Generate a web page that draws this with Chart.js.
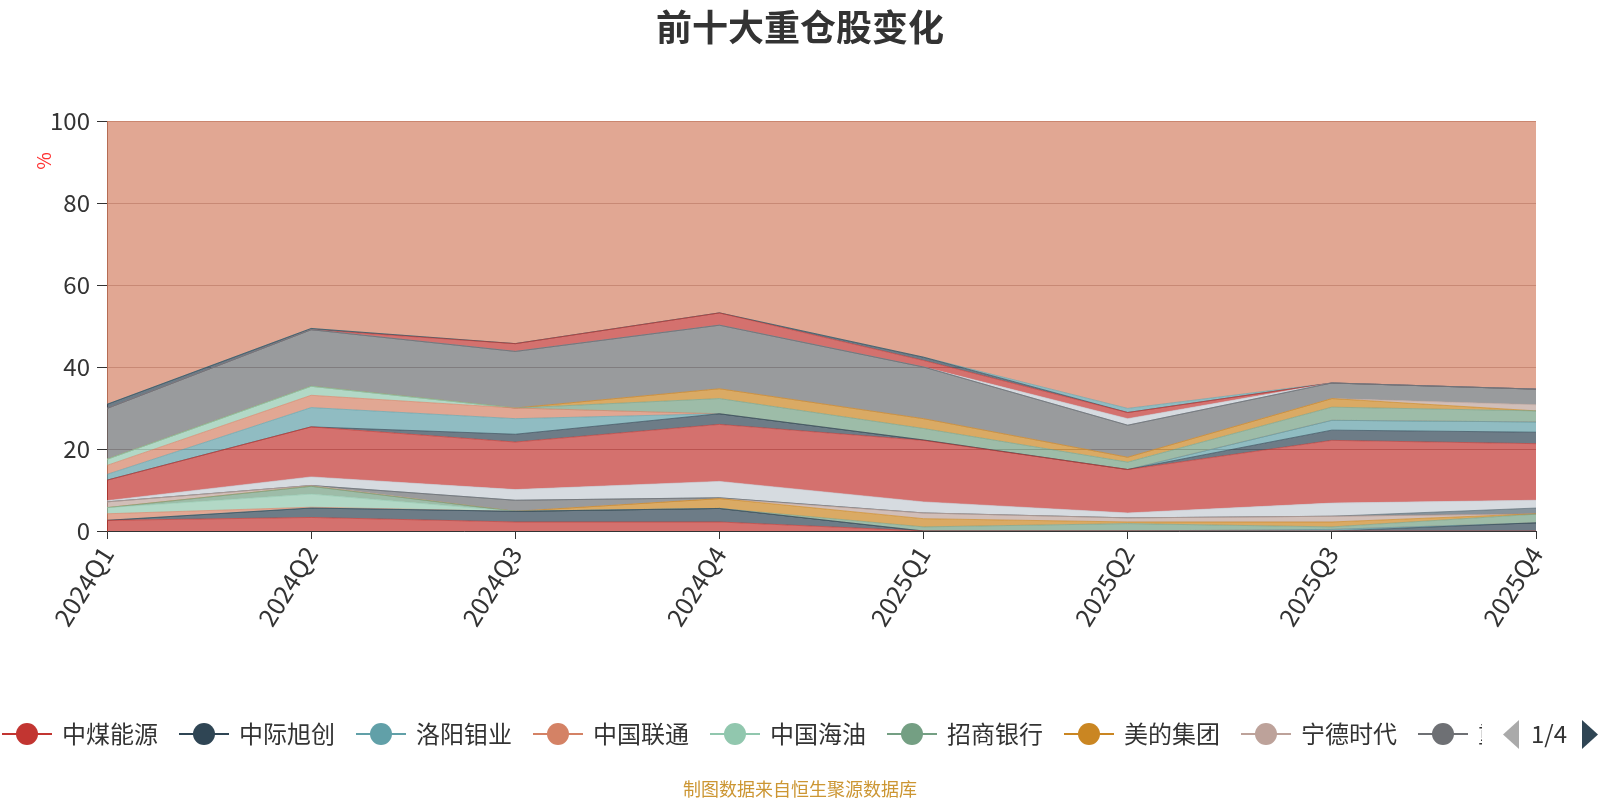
<!DOCTYPE html>
<html>
<head>
<meta charset="utf-8">
<script src="https://cdn.jsdelivr.net/npm/chart.js@4.4.0/dist/chart.umd.min.js"></script>
<style>
    body { margin: 0; background: #fff; }
    #wrap { width: 1600px; height: 800px; }
</style>
</head>
<body>
<div id="wrap"><canvas id="holdingsChart" width="1600" height="800"></canvas></div>
<script>
// Quarters on the x axis
const quarters = ['2024Q1', '2024Q2', '2024Q3', '2024Q4', '2025Q1', '2025Q2', '2025Q3', '2025Q4'];
const yTicks = [0, 20, 40, 60, 80, 100];

// Holding weights (%), one array per stock, in stacking order
const zhongmeiNengyuan = [2.6, 3.3, 2.2, 2.2, 0, 0, 0, 0];
const zhongjiXuchuang = [0, 2.3, 2.6, 3.3, 0, 0, 0, 2.0];
const luoyangMuye = [0, 0, 0, 0, 0, 0, 0.4, 0];
const zhongguoLiantong = [1.6, 0.2, 0, 0, 0, 0, 0, 0];
const zhongguoHaiyou = [1.5, 3.2, 0, 0, 0, 0, 0, 0];
const zhaoshangYinhang = [0, 1.9, 0, 0, 1.0, 1.8, 0.6, 2.1];
const meideJituan = [0, 0, 0, 2.4, 2.0, 0.4, 1.2, 0.1];
const ningdeShidai = [1.4, 0.2, 0, 0, 1.4, 1.0, 1.4, 0];
const stock09 = [0, 0, 2.7, 0.2, 0, 0, 0, 0];
const stock10 = [0, 0, 0, 0, 0, 0, 0, 1.4];
const stock11 = [0.3, 2.1, 2.6, 4.0, 2.7, 1.2, 3.2, 1.9];
const stock12 = [5.0, 12.2, 11.6, 13.9, 15.0, 10.6, 15.3, 13.8];
const stock13 = [0, 0, 1.9, 2.6, 0.1, 0, 2.5, 2.8];
const stock14 = [1.4, 4.7, 3.8, 0, 0, 0, 2.4, 2.5];
const stock15 = [2.2, 3.0, 2.6, 0, 0, 0, 0, 0];
const stock16 = [1.5, 2.2, 0, 0, 0, 0, 0, 0];
const stock17 = [0, 0, 0, 3.7, 2.8, 1.8, 3.2, 2.7];
const stock18 = [0, 0, 0, 2.4, 2.4, 1.2, 2.1, 0];
const stock19 = [0, 0, 0, 0, 0, 0, 0, 1.5];
const stock20 = [12.4, 13.8, 13.8, 15.5, 12.6, 7.8, 3.8, 3.8];
const stock21 = [0, 0, 0, 0, 0, 0, 0, 0];
const stock22 = [0, 0, 0, 0, 0, 1.6, 0, 0];
const stock23 = [0, 0, 1.9, 3.0, 1.6, 1.5, 0, 0];
const stock24 = [1.0, 0.3, 0, 0, 0.8, 0, 0, 0];
const stock25 = [0, 0, 0, 0, 0, 1.0, 0, 0];
const others = [69.1, 50.6, 54.3, 46.8, 57.6, 70.1, 63.9, 65.4];

const seriesNames = ['中煤能源', '中际旭创', '洛阳钼业', '中国联通', '中国海油', '招商银行', '美的集团', '宁德时代',
    '重仓股9', '重仓股10', '重仓股11', '重仓股12', '重仓股13', '重仓股14', '重仓股15', '重仓股16', '重仓股17',
    '重仓股18', '重仓股19', '重仓股20', '重仓股21', '重仓股22', '重仓股23', '重仓股24', '重仓股25', '其他'];
const seriesData = [zhongmeiNengyuan, zhongjiXuchuang, luoyangMuye, zhongguoLiantong, zhongguoHaiyou,
    zhaoshangYinhang, meideJituan, ningdeShidai, stock09, stock10, stock11, stock12, stock13, stock14,
    stock15, stock16, stock17, stock18, stock19, stock20, stock21, stock22, stock23, stock24, stock25, others];

const palette = ['#c23531', '#2f4554', '#61a0a8', '#d48265', '#91c7ae', '#749f83',
    '#ca8622', '#bda29a', '#6e7074', '#546570', '#c4ccd3'];
const FONT = '"Noto Sans CJK SC", "Noto Sans", sans-serif';

function withAlpha(hex, a) {
    const n = parseInt(hex.slice(1), 16);
    return `rgba(${(n >> 16) & 255}, ${(n >> 8) & 255}, ${n & 255}, ${a})`;
}

const datasets = seriesData.map((data, i) => ({
    label: seriesNames[i],
    data: data,
    fill: i === 0 ? 'origin' : '-1',
    backgroundColor: withAlpha(palette[i % palette.length], 0.7),
    borderColor: withAlpha(palette[i % palette.length], 0.6),
    borderWidth: 1,
    pointRadius: 0,
    tension: 0
}));

// Title, axis name, legend (first page) and footer
const decorPlugin = {
    id: 'decor',
    afterDraw(chart) {
        const ctx = chart.ctx;
        ctx.save();
        ctx.fillStyle = '#333';
        ctx.textAlign = 'center';
        ctx.textBaseline = 'middle';
        ctx.font = 'bold 36px ' + FONT;
        ctx.fillText('前十大重仓股变化', 800, 27);

        // y axis name
        ctx.save();
        ctx.translate(44, 161);
        ctx.rotate(-Math.PI / 2);
        ctx.fillStyle = '#f33';
        ctx.font = '19px ' + FONT;
        ctx.fillText('%', 0, 0);
        ctx.restore();

        // legend, clipped like a scrolling legend
        const cy = 734;
        ctx.save();
        ctx.beginPath();
        ctx.rect(0, 705, 1482, 60);
        ctx.clip();
        ctx.font = '24px ' + FONT;
        ctx.textAlign = 'left';
        let x = 2;
        seriesNames.forEach((name, i) => {
            if (x > 1482) return;
            const color = palette[i % palette.length];
            ctx.strokeStyle = color;
            ctx.lineWidth = 2;
            ctx.beginPath();
            ctx.moveTo(x, cy);
            ctx.lineTo(x + 50, cy);
            ctx.stroke();
            ctx.fillStyle = color;
            ctx.beginPath();
            ctx.arc(x + 25, cy, 11, 0, Math.PI * 2);
            ctx.fill();
            ctx.fillStyle = '#333';
            ctx.fillText(name, x + 60, cy);
            x += 60 + ctx.measureText(name).width + 21;
        });
        ctx.restore();

        // page controls
        ctx.fillStyle = '#aaa';
        ctx.beginPath();
        ctx.moveTo(1519, 720);
        ctx.lineTo(1519, 749);
        ctx.lineTo(1503, 734.5);
        ctx.closePath();
        ctx.fill();
        ctx.fillStyle = '#333';
        ctx.font = '24px ' + FONT;
        ctx.textAlign = 'left';
        ctx.fillText('1/4', 1531, cy);
        ctx.fillStyle = '#2f4554';
        ctx.beginPath();
        ctx.moveTo(1582, 720);
        ctx.lineTo(1582, 749);
        ctx.lineTo(1598, 734.5);
        ctx.closePath();
        ctx.fill();

        // footer
        ctx.textAlign = 'center';
        ctx.fillStyle = '#cc9633';
        ctx.font = '18px ' + FONT;
        ctx.fillText('制图数据来自恒生聚源数据库', 800, 789);
        ctx.restore();
    }
};

new Chart(document.getElementById('holdingsChart'), {
    type: 'line',
    data: { labels: quarters, datasets: datasets },
    options: {
        responsive: false,
        animation: false,
        devicePixelRatio: 1,
        layout: { padding: { top: 121, right: 64, left: 0, bottom: 0 } },
        plugins: {
            legend: { display: false },
            title: { display: false },
            tooltip: { enabled: false }
        },
        scales: {
            x: {
                afterFit: (scale) => { scale.height = 269; },
                grid: { drawOnChartArea: false, drawTicks: true, tickLength: 8, tickColor: '#333' },
                border: { color: '#333', width: 1 },
                ticks: {
                    color: '#333',
                    font: { size: 25, family: FONT },
                    minRotation: 58,
                    maxRotation: 58,
                    autoSkip: false,
                    padding: 2
                }
            },
            y: {
                stacked: true,
                min: 0,
                max: 100,
                afterFit: (scale) => { scale.width = 107; },
                afterBuildTicks: (scale) => { scale.ticks = yTicks.map(v => ({ value: v })); },
                grid: { color: '#a99', drawTicks: true, tickLength: 10, tickColor: '#333' },
                border: { color: '#6b3b2b', width: 1 },
                ticks: {
                    color: '#333',
                    font: { size: 24, family: FONT },
                    padding: 7
                }
            }
        }
    },
    plugins: [decorPlugin]
});
</script>
</body>
</html>
